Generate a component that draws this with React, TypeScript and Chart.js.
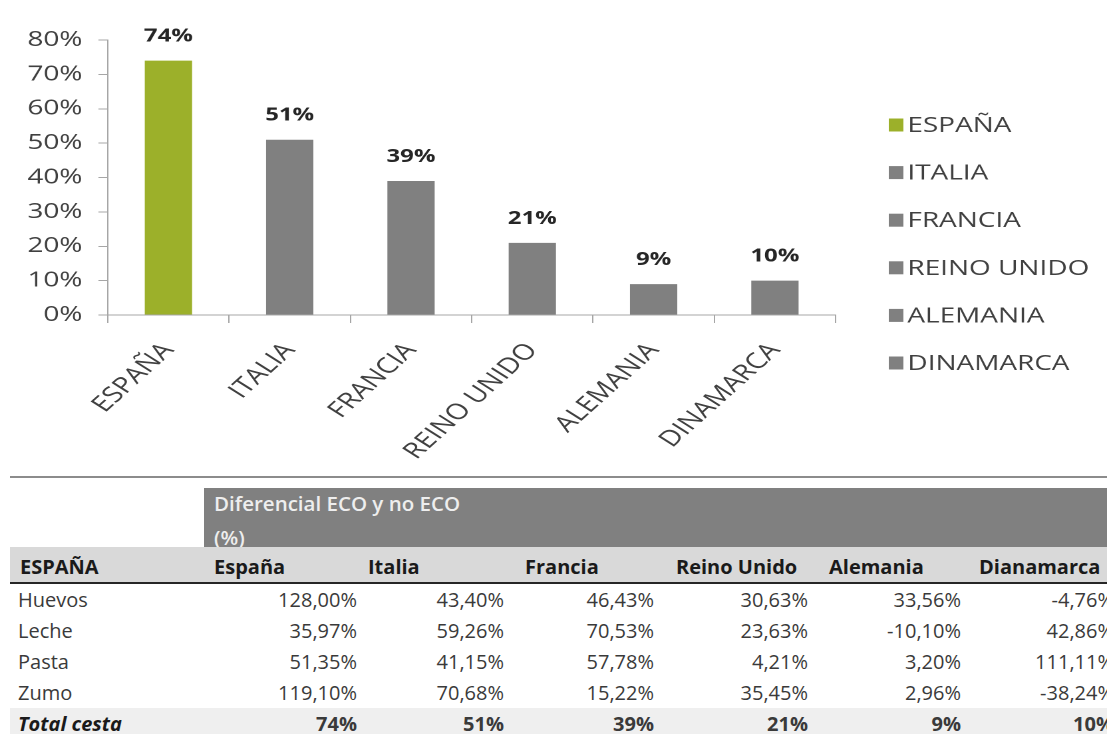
import React, { useEffect, useRef } from "react";
import { Chart, registerables } from "chart.js";

Chart.register(...registerables);

// ---- chart data ----
const countries = ["ESPAÑA", "ITALIA", "FRANCIA", "REINO UNIDO", "ALEMANIA", "DINAMARCA"];
const totals = [74, 51, 39, 21, 9, 10];
const barColors = ["#9cb02a", "#808080", "#808080", "#808080", "#808080", "#808080"];
const yMin = 0;
const yMax = 80;
const yStep = 10;

// ---- table data ----
const tableTitle = ["Diferencial ECO y no ECO", "(%)"];
const tableCorner = "ESPAÑA";
const tableColumns = ["España", "Italia", "Francia", "Reino Unido", "Alemania", "Dianamarca"];
const products = ["Huevos", "Leche", "Pasta", "Zumo"];
const huevos = ["128,00%", "43,40%", "46,43%", "30,63%", "33,56%", "-4,76%"];
const leche = ["35,97%", "59,26%", "70,53%", "23,63%", "-10,10%", "42,86%"];
const pasta = ["51,35%", "41,15%", "57,78%", "4,21%", "3,20%", "111,11%"];
const zumo = ["119,10%", "70,68%", "15,22%", "35,45%", "2,96%", "-38,24%"];
const totalLabel = "Total cesta";

const S = 1.3305; // horizontal stretch of the reference picture
const CW = 832;
const CH = 470;
const FONT = '"Open Sans", "DejaVu Sans", sans-serif';

const colWidths = [194, 160, 147, 150, 154, 153, 153];
const headPad = [10, 10, 4, 14, 15, 14, 11];

function ChartBlock() {
  const ref = useRef<HTMLCanvasElement | null>(null);
  useEffect(() => {
    if (!ref.current) return;
    const overlay = {
      id: "overlay",
      afterDatasetsDraw(chart: any) {
        const ctx = chart.ctx;
        const meta = chart.getDatasetMeta(0);
        ctx.save();
        ctx.font = `bold 18px ${FONT}`;
        ctx.fillStyle = "#262626";
        ctx.textAlign = "center";
        ctx.textBaseline = "alphabetic";
        meta.data.forEach((bar: any, i: number) => {
          ctx.fillText(totals[i] + "%", bar.x, bar.y - 19);
        });
        // legend
        const area = chart.chartArea;
        const lx = area.right + 40;
        const ly = area.top + 85;
        const pitch = 47.6;
        ctx.font = `21px ${FONT}`;
        ctx.textAlign = "left";
        ctx.textBaseline = "middle";
        countries.forEach((c, i) => {
          const cy = ly + i * pitch;
          ctx.fillStyle = barColors[i];
          ctx.fillRect(lx, cy - 6.5, 11, 13);
          ctx.fillStyle = "#404040";
          ctx.fillText(c, lx + 14, cy + 1);
        });
        ctx.restore();
      },
    };
    const chart = new Chart(ref.current, {
      type: "bar",
      data: {
        labels: countries,
        datasets: [
          {
            data: totals,
            backgroundColor: barColors,
            barPercentage: 0.39,
            categoryPercentage: 1,
          },
        ],
      },
      options: {
        animation: false,
        responsive: false,
        devicePixelRatio: 2,
        layout: { padding: { left: 0, right: 204, top: 40, bottom: 0 } },
        plugins: { legend: { display: false }, tooltip: { enabled: false } },
        scales: {
          x: {
            grid: { offset: true, drawOnChartArea: false, drawTicks: true, tickLength: 8, color: "#a6a6a6" },
            border: { color: "#a6a6a6" },
            ticks: {
              font: { family: FONT, size: 22 },
              color: "#404040",
              minRotation: 50,
              maxRotation: 50,
              padding: 15,
              autoSkip: false,
            },
            afterFit: (s: any) => {
              s.height = CH - 315;
            },
          },
          y: {
            min: yMin,
            max: yMax,
            ticks: {
              stepSize: yStep,
              callback: (v: any) => v + "%",
              font: { family: FONT, size: 21 },
              color: "#404040",
              padding: 12,
            },
            grid: { drawOnChartArea: false, tickLength: 7, color: "#a6a6a6" },
            border: { color: "#a6a6a6" },
            afterFit: (s: any) => {
              s.width = 81;
            },
          },
        },
      },
      plugins: [overlay],
    } as any);
    return () => chart.destroy();
  }, []);
  return (
    <div
      style={{
        position: "absolute",
        left: 0,
        top: 0,
        width: CW,
        height: CH,
        transform: `scaleX(${S})`,
        transformOrigin: "0 0",
      }}
    >
      <canvas ref={ref} width={CW} height={CH} />
    </div>
  );
}

function Row(props: { cells: string[]; height: number; style?: any; labelStyle?: any; valueStyle?: any }) {
  const { cells, height } = props;
  return (
    <div style={{ display: "flex", height, alignItems: "center", ...(props.style || {}) }}>
      {cells.map((c, i) => (
        <div
          key={i}
          style={{
            width: colWidths[i],
            flex: "0 0 auto",
            boxSizing: "border-box",
            whiteSpace: "nowrap",
            textAlign: i === 0 ? "left" : "right",
            paddingLeft: i === 0 ? 8 : 0,
            paddingRight: i === 0 ? 0 : 7,
            ...(i === 0 ? props.labelStyle || {} : props.valueStyle || {}),
          }}
        >
          {c}
        </div>
      ))}
    </div>
  );
}

function TableBlock() {
  const rows = [huevos, leche, pasta, zumo];
  const bodyFont = { fontFamily: FONT, fontSize: 20, color: "#3a3a3a" };
  return (
    <>
      <div style={{ position: "absolute", left: 10, top: 476, width: 1097, height: 2, background: "#8c8c8c" }} />
      <div style={{ position: "absolute", left: 10, top: 488, width: 1111, ...bodyFont }}>
        {/* title band */}
        <div style={{ display: "flex", height: 59 }}>
          <div style={{ width: colWidths[0], flex: "0 0 auto" }} />
          <div
            style={{
              flex: "1 1 auto",
              background: "#808080",
              color: "#eeeeee",
              fontWeight: 600,
              fontSize: 20.5,
              lineHeight: "34px",
              paddingLeft: 10,
              overflow: "hidden",
              whiteSpace: "nowrap",
            }}
          >
            <div style={{ marginTop: -2 }}>{tableTitle[0]}</div>
            <div>{tableTitle[1]}</div>
          </div>
        </div>
        {/* header row */}
        <div
          style={{
            display: "flex",
            height: 35,
            alignItems: "center",
            background: "#d9d9d9",
            borderBottom: "2px solid #262626",
            fontWeight: 700,
            color: "#1a1a1a",
          }}
        >
          {[tableCorner, ...tableColumns].map((c, i) => (
            <div
              key={i}
              style={{
                width: colWidths[i],
                flex: "0 0 auto",
                boxSizing: "border-box",
                paddingLeft: headPad[i],
                paddingTop: 4,
                whiteSpace: "nowrap",
              }}
            >
              {c}
            </div>
          ))}
        </div>
        {rows.map((r, k) => (
          <Row key={k} cells={[products[k], ...r]} height={31} />
        ))}
        <Row
          cells={[totalLabel, ...totals.map((v) => v + "%")]}
          height={31}
          style={{ background: "#efefef", fontWeight: 700 }}
          labelStyle={{ fontStyle: "italic", color: "#1a1a1a" }}
        />
      </div>
    </>
  );
}

export default function App() {
  return (
    <div
      style={{
        position: "absolute",
        left: 0,
        top: 0,
        width: 1107,
        height: 734,
        overflow: "hidden",
        background: "#ffffff",
        fontFamily: FONT,
      }}
    >
      <ChartBlock />
      <TableBlock />
    </div>
  );
}
